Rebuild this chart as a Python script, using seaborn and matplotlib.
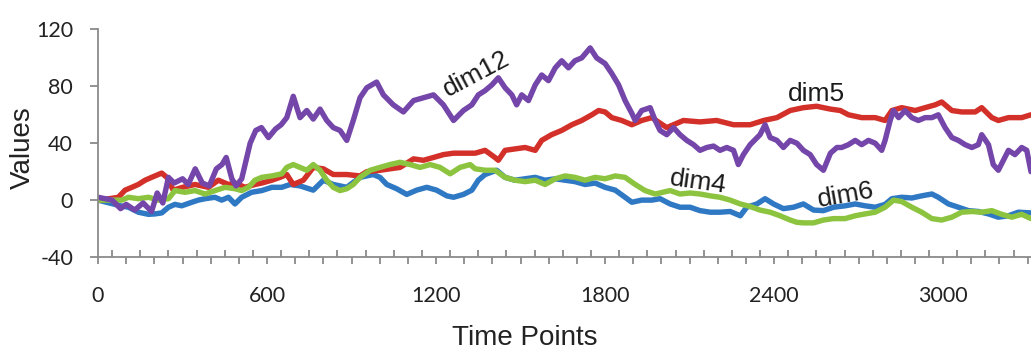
import numpy as np
import pandas as pd
import matplotlib
matplotlib.use("Agg")
import matplotlib.pyplot as plt
import seaborn as sns

# ---------------- data ----------------
dim12_t = [0, 50, 80, 100, 130, 160, 190, 210, 230, 250,
           270, 300, 320, 345, 370, 395, 420, 440, 455, 475,
           490, 510, 540, 560, 580, 605, 630, 650, 670, 693,
           717, 741, 764, 788, 812, 835, 859, 883, 906, 930,
           954, 989, 1013, 1048, 1084, 1120, 1155, 1191, 1226, 1262,
           1297, 1327, 1350, 1374, 1398, 1421, 1445, 1469, 1486, 1504,
           1528, 1552, 1575, 1599, 1623, 1646, 1670, 1693, 1717, 1747,
           1770, 1800, 1824, 1848, 1871, 1895, 1907, 1930, 1960, 1978,
           1995, 2019, 2043, 2066, 2090, 2114, 2137, 2161, 2185, 2208,
           2232, 2256, 2273, 2291, 2315, 2350, 2368, 2386, 2410, 2433,
           2457, 2481, 2504, 2528, 2551, 2575, 2600, 2623, 2640, 2664,
           2688, 2711, 2735, 2759, 2782, 2794, 2812, 2824, 2842, 2865,
           2889, 2912, 2936, 2960, 2983, 3007, 3031, 3054, 3078, 3102,
           3125, 3137, 3161, 3178, 3196, 3214, 3232, 3255, 3279, 3297,
           3312]
dim12_v = [2, 0, -6, -3, -7, -2, -8, 5, -2, 16,
           12, 15, 11, 22, 12, 10, 22, 25, 30, 15,
           10, 15, 40, 49, 51, 44, 50, 53, 58, 73,
           58, 63, 57, 64, 56, 51, 49, 42, 56, 72,
           79, 83, 74, 67, 62, 70, 72, 74, 67, 56,
           63, 67, 74, 77, 81, 86, 79, 74, 67, 74,
           70, 81, 88, 84, 93, 98, 93, 98, 100, 107,
           100, 96, 89, 81, 70, 61, 56, 63, 65, 56,
           49, 46, 51, 46, 42, 39, 35, 37, 38, 35,
           37, 35, 25, 32, 39, 46, 53, 44, 42, 37,
           42, 40, 35, 32, 25, 21, 33, 37, 37, 39,
           42, 39, 42, 40, 35, 42, 56, 63, 58, 63,
           58, 56, 58, 58, 60, 51, 44, 42, 39, 37,
           39, 46, 39, 25, 21, 28, 35, 32, 37, 35,
           20]

dim5_t = [0, 40, 72, 96, 120, 143, 167, 190, 214, 226,
          244, 267, 300, 344, 392, 427, 463, 486, 522, 557,
          581, 617, 646, 670, 693, 729, 764, 800, 835, 883,
          930, 954, 1001, 1036, 1072, 1120, 1155, 1191, 1226, 1262,
          1303, 1339, 1374, 1409, 1421, 1445, 1480, 1516, 1552, 1575,
          1610, 1646, 1682, 1717, 1753, 1777, 1800, 1824, 1859, 1895,
          1930, 1966, 2019, 2078, 2137, 2196, 2256, 2315, 2363, 2410,
          2457, 2504, 2551, 2600, 2635, 2664, 2711, 2759, 2794, 2818,
          2853, 2901, 2936, 2972, 2995, 3031, 3066, 3114, 3137, 3173,
          3196, 3232, 3279, 3312]
dim5_v = [0, 1, 2, 7, 9, 11, 14, 16, 18, 19,
          16, 7, 9, 11, 9, 14, 11, 12, 9, 11,
          12, 14, 16, 18, 11, 14, 23, 22, 18, 18,
          17, 20, 21, 22, 23, 29, 28, 30, 32, 33,
          33, 33, 35, 30, 28, 35, 36, 37, 35, 42,
          46, 49, 53, 56, 60, 63, 62, 58, 56, 53,
          56, 58, 51, 56, 55, 56, 53, 53, 56, 58,
          63, 65, 66, 64, 63, 60, 58, 58, 56, 63,
          65, 63, 65, 67, 69, 63, 62, 62, 65, 58,
          56, 58, 58, 60]

dim6_t = [0, 40, 80, 108, 143, 179, 202, 226, 250, 273,
          297, 333, 356, 380, 415, 439, 463, 486, 510, 545,
          581, 617, 652, 682, 717, 764, 800, 835, 883, 930,
          977, 1001, 1025, 1060, 1096, 1131, 1167, 1202, 1238, 1262,
          1297, 1327, 1350, 1374, 1415, 1445, 1480, 1516, 1552, 1587,
          1623, 1658, 1693, 1729, 1765, 1800, 1836, 1871, 1895, 1930,
          1966, 1995, 2031, 2066, 2102, 2137, 2173, 2208, 2244, 2280,
          2303, 2339, 2368, 2398, 2433, 2469, 2504, 2540, 2575, 2611,
          2652, 2688, 2723, 2759, 2794, 2818, 2853, 2889, 2924, 2960,
          2983, 3019, 3054, 3090, 3125, 3161, 3196, 3232, 3267, 3312]
dim6_v = [0, -2, -4, -5, -8.5, -10, -9.7, -9, -5, -3,
          -4, -1.5, 0, 1, 2, 0, 2, -2.7, 2, 5.5,
          6.7, 9, 9, 11, 10, 7, 14, 11, 9, 16,
          18, 16, 11, 8, 4, 7, 9, 7, 3, 2,
          4, 7, 14, 18, 21, 16, 14, 15, 16, 14,
          15, 14, 13, 11, 12, 9, 7, 2, -1.5, 0,
          0, 1, -2.7, -5, -5, -7.4, -8.5, -8.5, -8, -11,
          -5, -2.7, 1, -2.7, -6, -5, -2.7, -7, -7.4, -5,
          -4, -2.7, -4, -5, -3, 1, 2, 1.5, 3, 4.3,
          2, -2.7, -5, -7.4, -8, -9.7, -12, -11, -8.5, -9]

dim4_t = [0, 40, 84, 108, 143, 179, 214, 250, 273, 309,
          344, 380, 415, 451, 486, 510, 534, 557, 581, 617,
          652, 670, 693, 717, 741, 764, 788, 812, 835, 859,
          883, 906, 930, 966, 1001, 1036, 1072, 1108, 1143, 1179,
          1214, 1250, 1285, 1321, 1339, 1374, 1409, 1445, 1480, 1516,
          1552, 1587, 1623, 1658, 1693, 1729, 1765, 1800, 1836, 1871,
          1907, 1942, 1978, 2031, 2066, 2102, 2137, 2173, 2208, 2244,
          2280, 2315, 2350, 2386, 2421, 2457, 2481, 2504, 2540, 2575,
          2611, 2652, 2688, 2723, 2759, 2794, 2824, 2853, 2889, 2924,
          2960, 2995, 3031, 3066, 3102, 3137, 3173, 3208, 3244, 3279,
          3312]
dim4_v = [0, 0, 0, 2, 1, 2, 0, 1, 6.7, 5.5,
          6.7, 4.3, 6.7, 9, 8, 6.7, 9, 14, 16, 17,
          18.5, 23, 25, 23, 21, 25, 21, 14, 9, 6.7,
          8, 11, 16, 21, 23, 25, 26.6, 25, 23, 25,
          23, 18.5, 23, 25, 22, 21, 21, 16, 14, 13,
          14, 11, 15, 17, 16, 14, 16, 15, 17, 16,
          11, 6.7, 4.3, 6.7, 4.3, 5, 4.3, 3, 2, 0,
          -2.7, -4.5, -7, -8.5, -11, -14, -15.6, -16, -16, -14,
          -13, -13, -11, -9.7, -8.5, -5, 0, -1, -5, -8.5,
          -13, -14, -12, -8.5, -8, -8.5, -7.4, -10, -12, -10,
          -13]

series_names = ["dim6", "dim5", "dim4", "dim12"]
series_colors = ["#2F78C4", "#D3302A", "#8DC43F", "#7446AA"]
y_ticks = [-40, 0, 40, 80, 120]
x_label_ticks = [0, 600, 1200, 1800, 2400, 3000]

# ---------------- build long table ----------------
frames = []
for name, t, v in [("dim6", dim6_t, dim6_v), ("dim5", dim5_t, dim5_v),
                   ("dim4", dim4_t, dim4_v), ("dim12", dim12_t, dim12_v)]:
    assert len(t) == len(v), name
    frames.append(pd.DataFrame({"t": t, "v": v, "series": name}))
df = pd.concat(frames, ignore_index=True)

# ---------------- figure ----------------
sns.set_style("white")
plt.rcParams["font.family"] = ["Liberation Sans", "DejaVu Sans"]

fig = plt.figure(figsize=(10.31, 3.49), dpi=100)
ax = fig.add_axes([0.0951, 0.2636, 0.9049, 0.652])

sns.lineplot(data=df, x="t", y="v", hue="series", hue_order=series_names,
             palette=dict(zip(series_names, series_colors)),
             estimator=None, sort=False, legend=False, linewidth=3.9, ax=ax)

ax.set_xlim(0, 3312)
ax.set_ylim(-40, 120)

gray = "#8a8a8a"
for side in ["top", "right"]:
    ax.spines[side].set_visible(False)
for side in ["left", "bottom"]:
    ax.spines[side].set_color(gray)
    ax.spines[side].set_linewidth(1.3)

ax.set_yticks(y_ticks)
ax.set_yticklabels([str(v) for v in y_ticks])
major_x = list(range(0, 3301, 100))
ax.set_xticks(major_x)
ax.set_xticklabels([str(x) if x in x_label_ticks else "" for x in major_x])
ax.set_xticks(list(range(50, 3301, 100)), minor=True)

ax.tick_params(axis="y", which="major", direction="out", length=6, width=1.3,
               color=gray, pad=12, labelsize=15.5, labelcolor="#222222", left=True)
ax.tick_params(axis="x", which="major", direction="out", length=5, width=1.3,
               color=gray, pad=16, labelsize=15.5, labelcolor="#222222", bottom=True)
ax.tick_params(axis="x", which="minor", direction="in", length=5, width=1.3,
               color=gray, bottom=True)
for lab in ax.get_xticklabels() + ax.get_yticklabels():
    lab.set_fontfamily(["Lato", "DejaVu Sans"])

ax.set_xlabel("Time Points", fontsize=20, color="#222222")
ax.set_ylabel("Values", fontsize=20, color="#222222")
ax.xaxis.set_label_coords(0.4577, (257 - 338) / 227.5)
ax.xaxis.label.set_verticalalignment("center")
ax.yaxis.set_label_coords((23 - 98) / 933, (257 - 148) / 227.5)
ax.yaxis.label.set_verticalalignment("center")

ann_kw = dict(fontsize=19, color="#1a1a1a", ha="center", va="center",
              rotation_mode="anchor")
ax.text(1342, 88.5, "dim12", rotation=28, **ann_kw)
ax.text(2549, 74.5, "dim5", rotation=0, **ann_kw)
ax.text(2130, 13, "dim4", rotation=-8, **ann_kw)
ax.text(2655, 3.5, "dim6", rotation=10, **ann_kw)

fig.savefig("out.png", dpi=100)
